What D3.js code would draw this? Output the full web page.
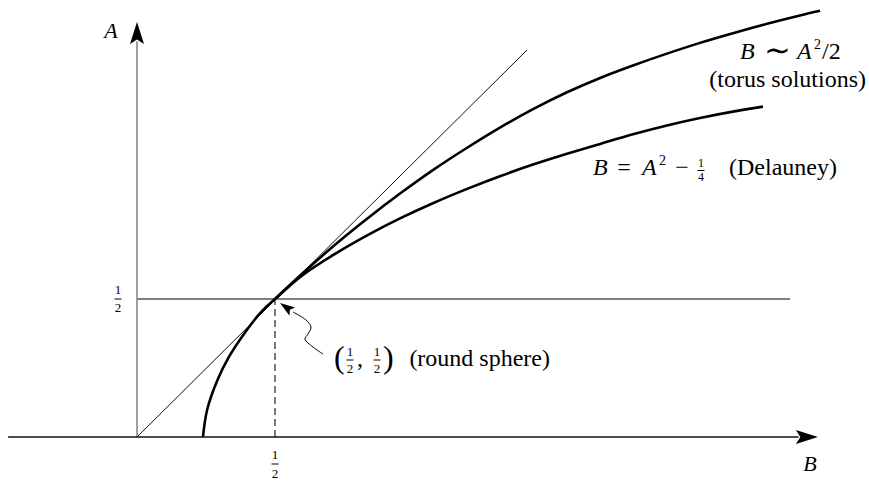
<!DOCTYPE html>
<html>
<head>
<meta charset="utf-8">
<script src="https://cdn.jsdelivr.net/npm/d3@7"></script>
<style>
  body { margin: 0; background: #fff; }
  text { font-family: "Liberation Serif", "Times New Roman", serif; fill: #000; }
</style>
</head>
<body>
<svg id="chart"></svg>
<script>
// values, as B (horizontal) and A (vertical)
const diagonal = [[0, 0], [1.413, 1.402]];

const torusB = [0.5, 0.601, 0.725, 0.844, 0.953, 1.072, 1.196, 1.315, 1.435, 1.558, 1.678, 1.797, 1.920, 2.040, 2.159, 2.283, 2.402, 2.475];
const torusA = [0.5, 0.594, 0.703, 0.799, 0.882, 0.967, 1.048, 1.121, 1.188, 1.249, 1.301, 1.346, 1.389, 1.428, 1.463, 1.497, 1.527, 1.544];

const delauneyB = [0.239, 0.254, 0.292, 0.333, 0.398, 0.456, 0.5, 0.601, 0.725, 0.844, 0.953, 1.072, 1.196, 1.315, 1.435, 1.558, 1.678, 1.797, 1.920, 2.040, 2.159, 2.268];
const delauneyA = [0, 0.098, 0.207, 0.290, 0.388, 0.460, 0.5, 0.587, 0.668, 0.736, 0.792, 0.847, 0.899, 0.945, 0.987, 1.026, 1.062, 1.097, 1.129, 1.156, 1.179, 1.197];

const roundSphere = [0.5, 0.5];
const tickValue = 0.5;
const tickLabel = ["1", "2"];

// axis extents (data units)
const bAxis = [-0.467, 2.467];
const aAxis = [0, 1.504];
const halfLineEnd = 2.366;

const width = 869, height = 482;

const svg = d3.select("#chart")
    .attr("width", width)
    .attr("height", height);

const x = d3.scaleLinear().domain([0, 1]).range([137, 413]);
const y = d3.scaleLinear().domain([0, 1]).range([437, 161]);

const line = d3.line()
    .x(d => x(d[0]))
    .y(d => y(d[1]));

const smooth = d3.line()
    .x(d => x(d[0]))
    .y(d => y(d[1]))
    .curve(d3.curveCatmullRom.alpha(0.5));

// horizontal guide at A = 1/2
svg.append("path")
    .attr("d", line([[0, 0.5], [halfLineEnd, 0.5]]))
    .attr("stroke", "#555")
    .attr("stroke-width", 1.3)
    .attr("fill", "none");

// dashed drop line at B = 1/2
svg.append("path")
    .attr("d", line([[tickValue, 0], [tickValue, 0.5]]))
    .attr("stroke", "#222")
    .attr("stroke-width", 1.2)
    .attr("stroke-dasharray", "7,4")
    .attr("fill", "none");

// A = B diagonal
svg.append("path")
    .attr("d", line(diagonal))
    .attr("stroke", "#111")
    .attr("stroke-width", 1)
    .attr("fill", "none");

// axes
svg.append("path")
    .attr("d", line([[0, 0], [0, aAxis[1] - 0.07]]))
    .attr("stroke", "#888")
    .attr("stroke-width", 1.6)
    .attr("fill", "none");

svg.append("path")
    .attr("d", line([[bAxis[0], 0], [bAxis[1] - 0.07, 0]]))
    .attr("stroke", "#111")
    .attr("stroke-width", 1.5)
    .attr("fill", "none");

// arrow heads
function arrowHead(tipX, tipY, dx, dy, len, half) {
    const px = -dy, py = dx;
    const bx = tipX - dx * len, by = tipY - dy * len;
    const nx = tipX - dx * len * 0.8, ny = tipY - dy * len * 0.8;
    return `M${tipX},${tipY}L${bx + px * half},${by + py * half}L${nx},${ny}L${bx - px * half},${by - py * half}Z`;
}

svg.append("path")
    .attr("d", arrowHead(x(0), y(aAxis[1]), 0, -1, 22, 7))
    .attr("fill", "#000");

svg.append("path")
    .attr("d", arrowHead(x(bAxis[1]), y(0), 1, 0, 22, 7))
    .attr("fill", "#000");

// the two solution curves
const torus = torusB.map((b, i) => [b, torusA[i]]);
const delauney = delauneyB.map((b, i) => [b, delauneyA[i]]);

svg.append("path")
    .attr("d", smooth(torus))
    .attr("stroke", "#000")
    .attr("stroke-width", 2.6)
    .attr("fill", "none");

svg.append("path")
    .attr("d", smooth(delauney))
    .attr("stroke", "#000")
    .attr("stroke-width", 2.6)
    .attr("fill", "none");

// small stacked fraction
function fraction(g, cx, yNum, yBar, yDen, size, w, num, den) {
    g.append("text").attr("x", cx).attr("y", yNum)
        .attr("text-anchor", "middle").style("font-size", size + "px").text(num);
    g.append("line").attr("x1", cx - w / 2).attr("x2", cx + w / 2)
        .attr("y1", yBar).attr("y2", yBar)
        .attr("stroke", "#000").attr("stroke-width", 1);
    g.append("text").attr("x", cx).attr("y", yDen)
        .attr("text-anchor", "middle").style("font-size", size + "px").text(den);
}

function word(x0, y0, str, size, italic, anchor) {
    return svg.append("text")
        .attr("x", x0).attr("y", y0)
        .attr("text-anchor", anchor || "start")
        .style("font-size", size + "px")
        .style("font-style", italic ? "italic" : "normal")
        .text(str);
}

// tick labels
fraction(svg, x(tickValue), 459, 464, 478, 13, 7, tickLabel[0], tickLabel[1]);
fraction(svg, 118, 294, 299, 312, 13, 7, tickLabel[0], tickLabel[1]);

// axis titles
word(111, 38, "A", 22, true, "middle");
word(810, 471, "B", 22, true, "middle");

// torus label
word(740, 59, "B", 24, true);
word(777, 61, "\u223C", 32, false, "middle");
word(797, 59, "A", 24, true);
word(814, 49, "2", 14, false);
word(822, 59, "/2", 24, false);
word(866, 87, "(torus solutions)", 24, false, "end");

// Delauney label
word(593, 175, "B", 24, true);
word(624, 175, "=", 24, false, "middle");
word(642, 175, "A", 24, true);
word(659, 165, "2", 14, false);
word(682, 175, "\u2212", 24, false, "middle");
fraction(svg, 701, 167, 170.5, 181, 12, 7, "1", "4");
word(837, 175, "(Delauney)", 24, false, "end");

// round sphere label
word(334, 368, "(", 32, false);
fraction(svg, 350, 356, 360, 373, 13, 7, tickLabel[0], tickLabel[1]);
word(357, 366, ",", 24, false);
fraction(svg, 377, 356, 360, 373, 13, 7, tickLabel[0], tickLabel[1]);
word(383, 368, ")", 32, false);
word(550, 366, "(round sphere)", 24, false, "end");

// pointer arrow to the round sphere point
const pointer = [[293, 312], [306, 320], [311, 327], [308, 334], [305, 339], [313, 347], [323, 354]];
svg.append("path")
    .attr("d", d3.line().curve(d3.curveCatmullRom)(pointer))
    .attr("stroke", "#000")
    .attr("stroke-width", 1)
    .attr("fill", "none");

const tip = [x(roundSphere[0]) + 5, y(roundSphere[1]) + 4];
const dir = [tip[0] - pointer[0][0], tip[1] - pointer[0][1]];
const dl = Math.hypot(dir[0], dir[1]);
svg.append("path")
    .attr("d", arrowHead(tip[0], tip[1], dir[0] / dl, dir[1] / dl, 15, 5))
    .attr("fill", "#000");
</script>
</body>
</html>
